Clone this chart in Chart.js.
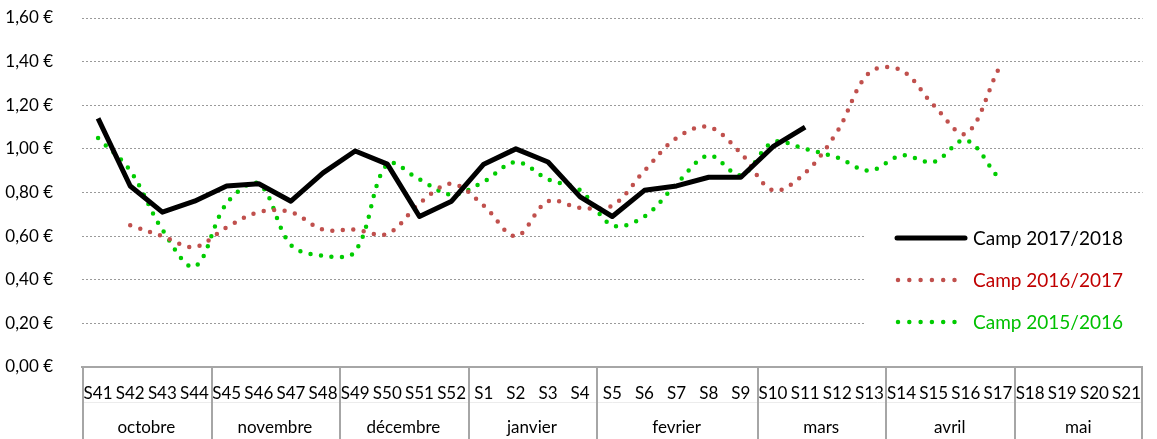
<!DOCTYPE html>
<html>
<head>
<meta charset="utf-8">
<script src="https://cdn.jsdelivr.net/npm/chart.js@4.4.1/dist/chart.umd.min.js"></script>
<style>
  html, body { margin: 0; padding: 0; background: #fff; }
  #wrap { width: 1157px; height: 439px; }
</style>
</head>
<body>
<div id="wrap"><canvas id="chart" width="1157" height="439"></canvas></div>
<script>
const weeks = ["S41", "S42", "S43", "S44", "S45", "S46", "S47", "S48", "S49", "S50", "S51", "S52",
  "S1", "S2", "S3", "S4", "S5", "S6", "S7", "S8", "S9", "S10", "S11", "S12", "S13",
  "S14", "S15", "S16", "S17", "S18", "S19", "S20", "S21"];
const months = ["octobre", "novembre", "décembre", "janvier", "fevrier", "mars", "avril", "mai"];
const monthWeeks = [4, 4, 4, 4, 5, 4, 4, 4];

const camp1718 = [1.14, 0.83, 0.71, 0.76, 0.83, 0.84, 0.76, 0.89, 0.99, 0.93, 0.69, 0.76,
  0.93, 1.00, 0.94, 0.78, 0.69, 0.81, 0.83, 0.87, 0.87, 1.01, 1.10];
const camp1617 = [null, 0.65, 0.60, 0.55, 0.64, 0.71, 0.71, 0.63, 0.63, 0.61, 0.75, 0.84,
  0.74, 0.60, 0.76, 0.73, 0.74, 0.90, 1.05, 1.10, 0.98, 0.81, 0.89, 1.08, 1.35,
  1.36, 1.20, 1.07, 1.36];
const camp1516 = [1.05, 0.90, 0.63, 0.46, 0.75, 0.84, 0.56, 0.51, 0.53, 0.93, 0.86, 0.79,
  0.85, 0.94, 0.86, 0.81, 0.65, 0.69, 0.84, 0.97, 0.88, 1.03, 1.00, 0.96, 0.90,
  0.97, 0.94, 1.04, 0.87];

const legendTextColors = ["#000000", "#c00000", "#00c000"];

Chart.defaults.font.family = "Lato";
Chart.defaults.font.size = 17;
Chart.defaults.color = "#000";

// month row under the week labels (two-level category axis)
const monthAxis = {
  id: "monthAxis",
  afterDraw(chart) {
    const x = chart.scales.x;
    const ctx = chart.ctx;
    const top = chart.chartArea.bottom;
    const bottom = chart.height;
    ctx.save();
    // faint line between the two rows
    ctx.strokeStyle = "#ececec";
    ctx.lineWidth = 1;
    ctx.beginPath();
    ctx.moveTo(chart.chartArea.left, 402.5);
    ctx.lineTo(chart.chartArea.right, 402.5);
    ctx.stroke();

    ctx.strokeStyle = "#a6a6a6";
    ctx.lineWidth = 2;
    ctx.font = "17px Lato";
    ctx.fillStyle = "#000";
    ctx.textAlign = "center";
    ctx.textBaseline = "middle";
    const line = px => {
      ctx.beginPath();
      ctx.moveTo(px, top);
      ctx.lineTo(px, bottom);
      ctx.stroke();
    };
    let start = 0;
    monthWeeks.forEach((n, i) => {
      const x0 = x.getPixelForValue(start - 0.5);
      const x1 = x.getPixelForValue(start + n - 0.5);
      line(Math.round(x0) + 1);
      ctx.fillText(months[i], (x0 + x1) / 2, 428);
      start += n;
    });
    line(Math.round(x.getPixelForValue(start - 0.5)) - 1);
    ctx.restore();
  }
};

// legend drawn inside the plot, like the original
const innerLegend = {
  id: "innerLegend",
  afterDatasetsDraw(chart) {
    const ctx = chart.ctx;
    ctx.save();
    ctx.fillStyle = "#fff";
    ctx.fillRect(864, 218, 288, 124);
    ctx.font = "19px Lato";
    ctx.textBaseline = "middle";
    ctx.textAlign = "left";
    chart.data.datasets.forEach((ds, i) => {
      const y = 238 + i * 42;
      ctx.beginPath();
      ctx.strokeStyle = ds.borderColor;
      ctx.lineWidth = ds.borderWidth;
      ctx.lineCap = "round";
      if (ds.borderDash) {
        ctx.setLineDash([0, 11.3]);
        ctx.moveTo(898, y);
        ctx.lineTo(956, y);
      } else {
        ctx.setLineDash([]);
        ctx.moveTo(897, y);
        ctx.lineTo(965, y);
      }
      ctx.stroke();
      ctx.setLineDash([]);
      ctx.fillStyle = legendTextColors[i];
      ctx.fillText(ds.label, 973, y + 1);
    });
    ctx.restore();
  }
};

new Chart(document.getElementById("chart"), {
  type: "line",
  data: {
    labels: weeks,
    datasets: [
      {
        label: "Camp 2017/2018",
        data: camp1718,
        borderColor: "#000000",
        borderWidth: 5,
        tension: 0,
        pointRadius: 0,
        borderJoinStyle: "round"
      },
      {
        label: "Camp 2016/2017",
        data: camp1617,
        borderColor: "#c0504d",
        borderWidth: 4.5,
        borderDash: [0, 10.5],
        borderCapStyle: "round",
        tension: 0.35,
        pointRadius: 0
      },
      {
        label: "Camp 2015/2016",
        data: camp1516,
        borderColor: "#00cc00",
        borderWidth: 4.5,
        borderDash: [0, 10.5],
        borderCapStyle: "round",
        tension: 0.35,
        pointRadius: 0
      }
    ]
  },
  plugins: [monthAxis, innerLegend],
  options: {
    responsive: false,
    devicePixelRatio: 1,
    animation: false,
    layout: { padding: { top: 18, right: 0, left: 0, bottom: 0 } },
    plugins: {
      legend: { display: false },
      tooltip: { enabled: false }
    },
    scales: {
      x: {
        offset: true,
        grid: { display: false, drawTicks: false },
        border: { display: true, color: "#a6a6a6", width: 2 },
        ticks: { autoSkip: false, maxRotation: 0, padding: 16 },
        afterFit(scale) { scale.height = 72; }
      },
      y: {
        min: 0,
        max: 1.6,
        grid: {
          drawTicks: true,
          tickLength: 29,
          tickColor: "rgba(0,0,0,0)",
          color: ctx => (ctx.tick.value === 0 ? "rgba(0,0,0,0)" : "#9a9a9a"),
          lineWidth: 1
        },
        border: { display: false, dash: [2, 2] },
        ticks: {
          stepSize: 0.2,
          padding: 0,
          callback: v => v.toFixed(2).replace(".", ",") + " €"
        },
        afterFit(scale) { scale.width = 82; }
      }
    }
  }
});
</script>
</body>
</html>
